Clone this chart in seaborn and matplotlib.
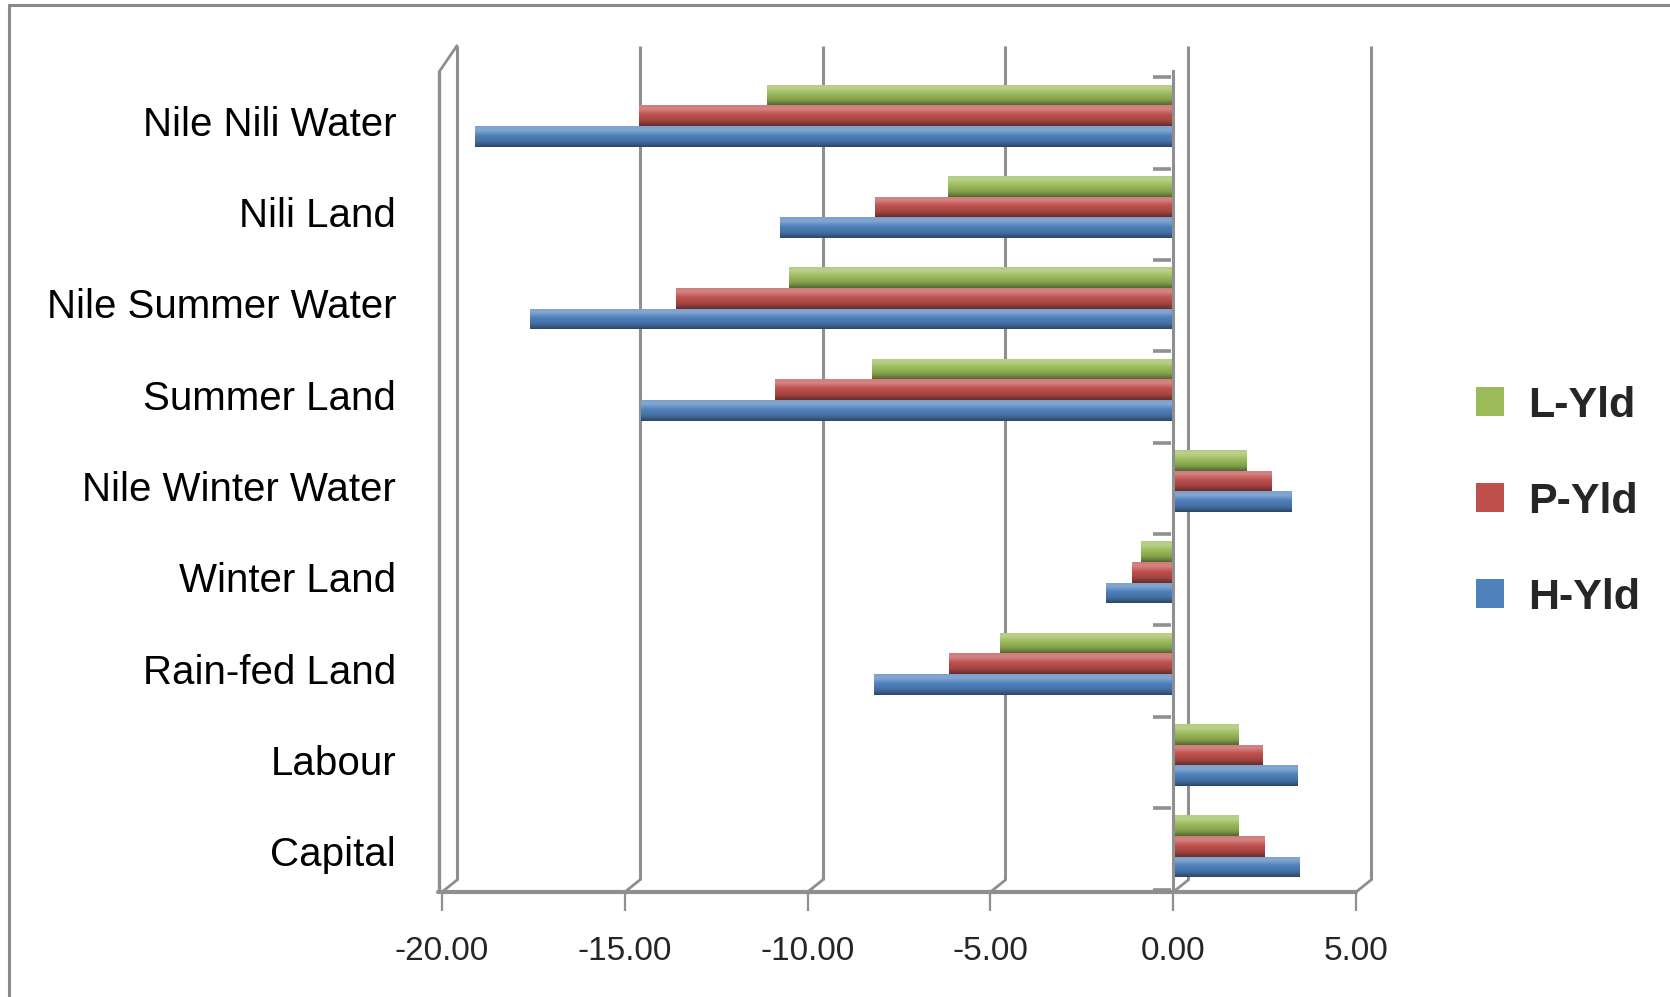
import numpy as np
import pandas as pd
import matplotlib
matplotlib.use("Agg")
import matplotlib.pyplot as plt
import matplotlib.transforms as mtransforms
from matplotlib import font_manager
from matplotlib.patches import Patch
from matplotlib.colors import to_rgb
import seaborn as sns

# --- data -------------------------------------------------------------------
categories = ["Nile Nili Water", "Nili Land", "Nile Summer Water", "Summer Land",
              "Nile Winter Water", "Winter Land", "Rain-fed Land", "Labour", "Capital"]
series = ["L-Yld", "P-Yld", "H-Yld"]
l_yld = [-11.10, -6.15, -10.50, -8.25, 2.00, -0.88, -4.75, 1.80, 1.80]
p_yld = [-14.60, -8.15, -13.60, -10.90, 2.70, -1.14, -6.14, 2.45, 2.50]
h_yld = [-19.10, -10.75, -17.60, -14.55, 3.25, -1.84, -8.18, 3.40, 3.45]
x_ticks = [-20, -15, -10, -5, 0, 5]
colors = {"L-Yld": "#9BBB59", "P-Yld": "#C0504D", "H-Yld": "#4F81BD"}

df = pd.DataFrame({
    "Category": categories * 3,
    "Series": [s for s in series for _ in categories],
    "Value": l_yld + p_yld + h_yld,
})

# --- fonts --------------------------------------------------------------------
installed = {f.name for f in font_manager.fontManager.ttflist}
narrow = "Liberation Sans Narrow" if "Liberation Sans Narrow" in installed else "Liberation Sans"
sns.set_style("white")
plt.rcParams["font.family"] = ["Liberation Sans", "DejaVu Sans"]

W, H = 1670, 997
fig = plt.figure(figsize=(W / 100, H / 100), dpi=100)
fig.patch.set_facecolor("white")

# plot area: x from -20 to 5, categories top to bottom
ax_l, ax_r, ax_t, ax_b = 442, 1356, 70, 892
ax = fig.add_axes([ax_l / W, 1 - ax_b / H, (ax_r - ax_l) / W, (ax_b - ax_t) / H])

sns.barplot(data=df, y="Category", x="Value", hue="Series", hue_order=series,
            order=categories, palette=colors, orient="h", width=0.68,
            saturation=1, ax=ax, legend=False, errorbar=None)

n = len(categories)
ax.set_xlim(-20, 5)
ax.set_ylim(n - 0.5, -0.5)
ax.set_xlabel("")
ax.set_ylabel("")
for s in ax.spines.values():
    s.set_visible(False)
ax.grid(False)


def shade(c):
    """Vertical gradient giving a rounded, tube-like look to a bar."""
    base = np.array(to_rgb(c))
    light = base + (1 - base) * 0.30
    dark = base * 0.55
    stops = [(0.0, light * 0.85 + base * 0.15), (0.18, light), (0.45, base),
             (0.75, base * 0.85), (1.0, dark)]
    rows = []
    for y in np.linspace(0, 1, 40):
        for (p0, c0), (p1, c1) in zip(stops[:-1], stops[1:]):
            if p0 <= y <= p1:
                t = (y - p0) / (p1 - p0)
                rows.append(c0 * (1 - t) + c1 * t)
                break
    return np.clip(np.array(rows)[:, None, :], 0, 1)


for patch in list(ax.patches):
    x0, y0 = patch.get_x(), patch.get_y()
    w, h = patch.get_width(), patch.get_height()
    if w == 0:
        continue
    im = ax.imshow(shade(patch.get_facecolor()[:3]),
                   extent=(min(x0, x0 + w), max(x0, x0 + w), y0 + h, y0),
                   aspect="auto", zorder=3, interpolation="bilinear")
    im.set_clip_path(patch)
    patch.set_zorder(2)
    patch.set_edgecolor("none")
ax.set_xlim(-20, 5)
ax.set_ylim(n - 0.5, -0.5)

# back wall gridlines, shifted right and up for depth
grid_c = "#8f8f8f"
depth = mtransforms.ScaledTranslation(15 / 100, 12 / 100, fig.dpi_scale_trans)
back = ax.transData + depth
y_top_back = -0.5 - 0.135
for v in x_ticks:
    ax.plot([v, v], [n - 0.5, y_top_back], transform=back,
            color=grid_c, lw=2.2, zorder=1, clip_on=False, solid_capstyle="butt")

# floor edges joining the front axis to the back wall
fig.canvas.draw()
for v in x_ticks:
    px, py = ax.transData.transform((v, n - 0.5))
    fig.add_artist(plt.Line2D([px / W, (px + 15) / W], [py / H, (py + 12) / H],
                              color=grid_c, lw=2.0, transform=fig.transFigure))

# left wall: front edge and top diagonal
px, py_bot = ax.transData.transform((-20, n - 0.5))
_, py_top = ax.transData.transform((-20, -0.5))
fig.add_artist(plt.Line2D([(px - 3) / W, (px - 3) / W], [py_bot / H, (py_top - 2) / H],
                          color=grid_c, lw=2.4, transform=fig.transFigure))
_, py_topb = back.transform((-20, y_top_back))
fig.add_artist(plt.Line2D([(px - 3) / W, (px + 15) / W], [(py_top - 2) / H, py_topb / H],
                          color=grid_c, lw=2.0, transform=fig.transFigure))

# front floor edge (value axis line)
ax.axhline(n - 0.5, xmin=-0.004, xmax=1.0, color=grid_c, lw=3, zorder=4, clip_on=False)
# category axis at zero with its tick marks between groups
ax.axvline(0, color=grid_c, lw=2.2, zorder=4)
for i in range(n + 1):
    yb = min(i - 0.5 + 0.08, n - 0.5 - 0.02)
    ax.plot([-0.55, -0.05], [yb, yb], color=grid_c, lw=2.6, zorder=4,
            solid_capstyle="butt", clip_on=False)

# ticks and labels
ax.set_xticks(x_ticks)
ax.set_xticklabels([f"{v:.2f}" for v in x_ticks])
ax.tick_params(axis="x", length=14, width=1.6, color=grid_c, pad=18, labelsize=24,
               direction="out", bottom=True)
ax.tick_params(axis="y", length=0, pad=33, labelsize=29)
# labels sit a little lower than the bar groups, as in a tilted 3D view
lab_shift = mtransforms.ScaledTranslation(0, -5 / 100, fig.dpi_scale_trans)
for lab in ax.get_yticklabels():
    lab.set_color("black")
    lab.set_transform(lab.get_transform() + lab_shift)

# legend
handles = [Patch(facecolor=colors[s], edgecolor="none", label=s) for s in series]
fig.legend(handles=handles, loc="center left", bbox_to_anchor=(1476 / W, 1 - 502 / H),
           frameon=False, prop={"family": narrow, "weight": "bold", "size": 31},
           handlelength=0.66, handleheight=0.66, labelspacing=1.3, handletextpad=0.55,
           borderaxespad=0, borderpad=0)

# outer chart border (left and top edges)
fig.add_artist(plt.Line2D([9 / W, 9 / W], [0, 1 - 5 / H], color="#8a8a8a", lw=2.2,
                          transform=fig.transFigure))
fig.add_artist(plt.Line2D([9 / W, 1], [1 - 5 / H, 1 - 5 / H], color="#8a8a8a", lw=2.2,
                          transform=fig.transFigure))

fig.savefig("out.png", dpi=100, facecolor="white")
